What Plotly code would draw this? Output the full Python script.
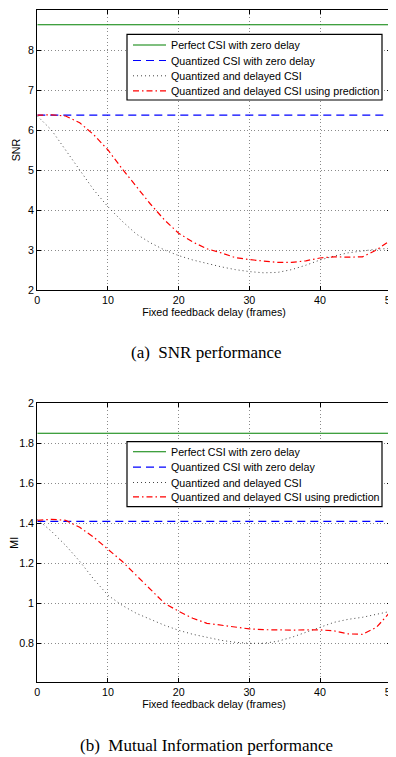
import plotly.graph_objects as go

# ---------------- data ----------------
delay = [0, 2, 4, 6, 8, 10, 12, 14, 16, 18, 20, 22, 24, 26, 28, 30, 32, 34, 36, 38, 40, 42, 44, 46, 48, 50]

snr_perfect = 8.63
snr_quant = 6.37
snr_delayed = [6.35, 6.0, 5.5, 5.0, 4.5, 4.08, 3.72, 3.40, 3.18, 3.0, 2.86, 2.75, 2.66, 2.58, 2.51,
               2.46, 2.43, 2.44, 2.51, 2.62, 2.75, 2.85, 2.93, 2.98, 3.02, 3.04]
snr_pred = [6.37, 6.38, 6.35, 6.18, 5.88, 5.5, 5.03, 4.6, 4.15, 3.75, 3.42, 3.2, 3.03, 2.93, 2.81,
            2.76, 2.72, 2.69, 2.69, 2.73, 2.8, 2.83, 2.82, 2.83, 3.0, 3.25]

mi_perfect = 1.85
mi_quant = 1.41
mi_delayed = [1.42, 1.36, 1.29, 1.21, 1.12, 1.04, 0.99, 0.95, 0.92, 0.89, 0.865, 0.845, 0.83, 0.815,
              0.805, 0.80, 0.80, 0.81, 0.83, 0.855, 0.88, 0.905, 0.92, 0.93, 0.945, 0.96]
mi_pred = [1.415, 1.42, 1.415, 1.38, 1.33, 1.27, 1.21, 1.14, 1.07, 1.0, 0.96, 0.925, 0.90, 0.89, 0.88,
           0.872, 0.868, 0.866, 0.866, 0.867, 0.867, 0.862, 0.847, 0.845, 0.88, 0.96]

series_names = ["Perfect CSI with zero delay", "Quantized CSI with zero delay",
                "Quantized and delayed CSI", "Quantized and delayed CSI using prediction"]
x_ticks = [0, 10, 20, 30, 40, 50]
snr_ticks = [2, 3, 4, 5, 6, 7, 8, 9]
mi_ticks = [0.8, 1.0, 1.2, 1.4, 1.6, 1.8, 2.0]
mi_tick_labels = ["0.8", "1", "1.2", "1.4", "1.6", "1.8", "2"]
x_title = "Fixed feedback delay (frames)"
captions = ["(a)\u00a0\u00a0SNR performance", "(b)\u00a0\u00a0Mutual Information performance"]

W, H = 396, 757
OFF = 8  # page body margin offset
FS = 10.7
SANS = "Liberation Sans, Arial"


def fx(px):  # screen px from left -> paper x
    return (px - OFF) / W


def fy(py):  # screen px from top -> paper y
    return (H - (py - OFF)) / H


styles = [dict(color="#008000", width=1.1, dash="solid"),
          dict(color="#0000ff", width=1.2, dash="8px,5px"),
          dict(color="#444444", width=1, dash="1px,3px"),
          dict(color="#ff0000", width=1.2, dash="6px,3px,1.5px,3px")]

fig = go.Figure()
for xa, ya, perf, quant, dl, pr in [
        ("x", "y", snr_perfect, snr_quant, snr_delayed, snr_pred),
        ("x2", "y2", mi_perfect, mi_quant, mi_delayed, mi_pred)]:
    ys = [[perf] * len(delay), [quant] * len(delay), dl, pr]
    for name, yv, st in zip(series_names, ys, styles):
        fig.add_trace(go.Scatter(x=delay, y=yv, mode="lines", name=name, line=st,
                                 xaxis=xa, yaxis=ya, showlegend=False))

xdom = [fx(37.3), fx(390.7)]
axis_common = dict(showline=True, linecolor="black", linewidth=1.2, mirror="ticks",
                   ticks="inside", ticklen=4, tickcolor="black", automargin=False,
                   showgrid=True, gridcolor="#8a8a8a", griddash="1px,2.5px", gridwidth=1,
                   zeroline=False, tickfont=dict(family=SANS, size=FS, color="black"))

fig.update_layout(
    width=W, height=H, margin=dict(l=0, r=0, t=0, b=0, autoexpand=False),
    paper_bgcolor="white", plot_bgcolor="white",
    font=dict(family=SANS, size=FS, color="black"),
    xaxis=dict(domain=xdom, range=[0, 50], tickvals=x_ticks, anchor="y",
               title=dict(text=x_title, standoff=3, font=dict(size=FS)), **axis_common),
    yaxis=dict(domain=[fy(290), fy(10)], range=[2, 9], tickvals=snr_ticks, anchor="x",
               title=dict(text="SNR", standoff=5, font=dict(size=FS)), **axis_common),
    xaxis2=dict(domain=xdom, range=[0, 50], tickvals=x_ticks, anchor="y2",
                title=dict(text=x_title, standoff=3, font=dict(size=FS)), **axis_common),
    yaxis2=dict(domain=[fy(682.3), fy(403.3)], range=[0.605, 2], tickvals=mi_ticks,
                ticktext=mi_tick_labels, anchor="x2",
                title=dict(text="MI", standoff=5, font=dict(size=FS)), **axis_common),
    showlegend=False,
)

# legend boxes (drawn in paper space, one per panel)
for top, bottom, rows in [(34.3, 100, [45, 60.5, 75.8, 90.8]),
                          (441.7, 506.7, [451.7, 467.2, 482.5, 496.9])]:
    fig.add_shape(type="rect", xref="paper", yref="paper",
                  x0=fx(127), x1=fx(382), y0=fy(bottom), y1=fy(top),
                  line=dict(color="black", width=1.2), fillcolor="white", layer="above")
    for name, st, ry in zip(series_names, styles, rows):
        fig.add_shape(type="line", xref="paper", yref="paper",
                      x0=fx(133), x1=fx(166), y0=fy(ry), y1=fy(ry),
                      line=dict(color=st["color"], width=st["width"], dash=st["dash"]), layer="above")
        fig.add_annotation(text=name, x=fx(169), y=fy(ry), xref="paper", yref="paper",
                           showarrow=False, xanchor="left", yanchor="middle",
                           font=dict(family=SANS, size=FS, color="black"))

for cap, cy in zip(captions, [353, 745]):
    fig.add_annotation(text=cap, x=fx(206), y=fy(cy), xref="paper", yref="paper",
                       showarrow=False, xanchor="center", yanchor="middle",
                       font=dict(family="Liberation Serif, Times New Roman", size=17, color="black"))

fig.write_html("out.html")
